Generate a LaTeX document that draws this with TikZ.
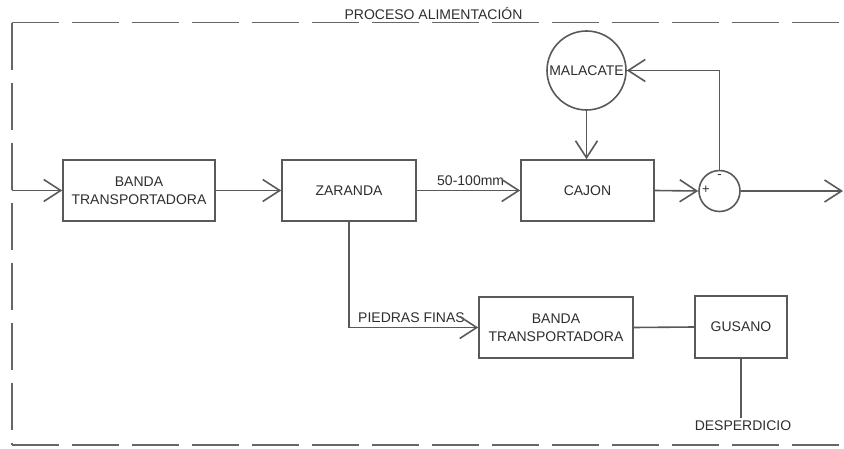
\documentclass[tikz,border=0pt]{standalone}
\usepackage{fontspec}
\setmainfont{Liberation Sans}
\usetikzlibrary{arrows.meta}
\begin{document}
\begin{tikzpicture}[x=1pt,y=-1pt,
  ln/.style={draw=black!65,line width=1.6pt},
  blk/.style={ln,rectangle,inner sep=0pt,align=center,font=\fontsize{14}{18}\selectfont,text=black!82},
  circ/.style={ln,circle,inner sep=0pt,font=\fontsize{14}{18}\selectfont,text=black!82},
  arr/.style={ln,-{Straight Barb[length=17pt,width=22pt]}},
  lbl/.style={font=\fontsize{14}{16}\selectfont,text=black!82,inner sep=0pt},
  frame/.style={draw=black!60,line width=1.6pt,dash pattern=on 47pt off 13pt}]
\useasboundingbox (0,0) rectangle (844,449);
% frame
\coordinate (tl) at (12,22.7);
\coordinate (bl) at (12,445);
\coordinate (tr) at (846,22.7);
\coordinate (br) at (846,445);
\draw[frame] (tl) -- (tr);
\draw[frame] (tl) -- (bl);
\draw[frame] (bl) -- (br);
\node[lbl,anchor=base] (title) at (433.5,20) {PROCESO ALIMENTACIÓN};
% blocks
\node[blk,minimum width=152pt,minimum height=61pt] (b1) at (139,190.5) {BANDA\\TRANSPORTADORA};
\node[blk,minimum width=134pt,minimum height=61pt] (zar) at (349,190.5) {ZARANDA};
\node[blk,minimum width=133pt,minimum height=61pt] (caj) at (587.5,190.5) {CAJON};
\node[circ,minimum size=79pt] (mal) at (586.5,70.5) {MALACATE};
\node[circ,minimum size=41pt] (sum) at (719.5,191) {};
\node[lbl,font=\fontsize{13}{14}\selectfont] (plus) at (706,190) {+};
\node[lbl,font=\fontsize{13}{14}\selectfont] (minus) at (719.5,177) {-};
\node[blk,minimum width=154pt,minimum height=61pt] (b2) at (556,327.5) {BANDA\\TRANSPORTADORA};
\node[blk,minimum width=92pt,minimum height=62pt] (gus) at (741,327) {GUSANO};
\node[lbl,inner sep=3pt] (desp) at (743,426) {DESPERDICIO};
% labels
\node[lbl,anchor=base west] (l50) at (437,186) {50-100mm};
\node[lbl,anchor=base west] (lpf) at (358,323) {PIEDRAS FINAS};
% connectors
\coordinate (in) at (12,190.5);
\coordinate (out) at (843,191);
\draw[arr] (in) -- (b1.west);
\draw[arr] (b1) -- (zar);
\draw[arr] (zar) -- (caj);
\draw[arr] (mal.south) -- (mal.south |- caj.north);
\draw[arr] (caj.east) -- (sum.west);
\draw[arr] (sum.north) -- (sum.north |- mal.east) -- (mal.east);
\draw[arr] (sum.east) -- (out);
\draw[arr] (zar.south) |- (b2.west);
\draw[ln] (b2.east) -- (gus.west);
\draw[ln] (gus.south) -- (gus.south |- desp.north);
\end{tikzpicture}
\end{document}
